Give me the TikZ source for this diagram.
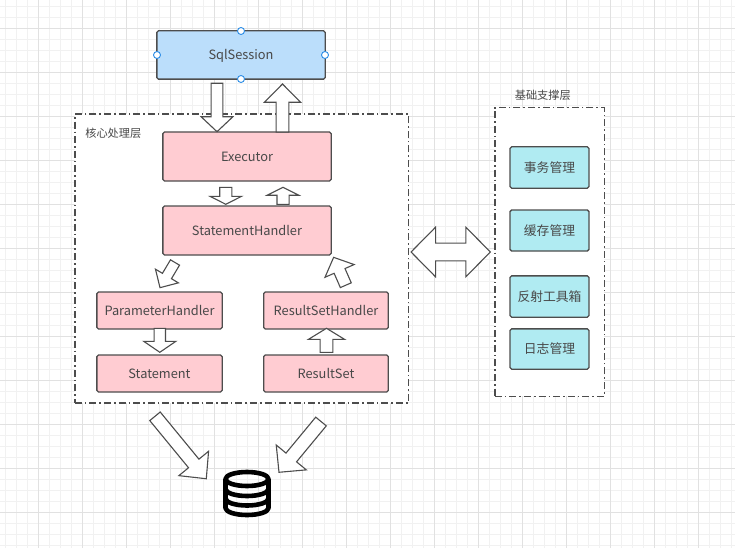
\documentclass[tikz,border=0pt]{standalone}
\usepackage{fontspec}
\setmainfont{Noto Sans CJK SC}
\usetikzlibrary{shapes.arrows}

\definecolor{boxline}{HTML}{4D4D4D}
\definecolor{boxtext}{HTML}{484848}
\definecolor{sessionfill}{HTML}{BBDEFB}
\definecolor{corefill}{HTML}{FFCCD2}
\definecolor{basefill}{HTML}{B0EBF2}
\definecolor{handleblue}{HTML}{2A8CE6}
\definecolor{gridminor}{HTML}{F1F1F1}
\definecolor{gridmajor}{HTML}{E1E1E1}

\tikzset{
	flowbox/.style n args={3}{draw=boxline,line width=1.3pt,rounded corners=1.6pt,fill=#3,text=boxtext,
		minimum width=#1pt,minimum height=#2pt,inner sep=0pt,outer sep=0pt,text height=10.5pt,text depth=1pt,
		font=\fontsize{12.8}{14}\selectfont},
	layerbox/.style n args={2}{draw=boxline,line width=1.5pt,fill=white,dash pattern=on 7pt off 3pt on 1.6pt off 3pt,
		minimum width=#1pt,minimum height=#2pt,inner sep=0pt,outer sep=0pt},
	layertitle/.style={text=boxtext,inner sep=0pt,text height=9.5pt,text depth=1pt,font=\fontsize{11.2}{12}\selectfont},
	blockarrow/.style n args={4}{single arrow,draw=boxline,fill=white,line width=1.1pt,anchor=tail,inner sep=0pt,outer sep=0pt,
		minimum height=#1pt,minimum width=#3pt,inner xsep=0pt,inner ysep={#2/2*1pt},
		single arrow head extend={(#3-#2)/2*1pt},single arrow tip angle={2*atan(#3/2/#4)}},
	handle/.style={circle,draw=handleblue,fill=white,line width=0.9pt,minimum size=7pt,inner sep=0pt},
}

\begin{document}
\begin{tikzpicture}[x=1pt,y=-1pt]
	\useasboundingbox (0,0) rectangle (735,548);
	\fill[white] (0,0) rectangle (735,548);
	% grid
	\foreach \i in {0,...,66} {
		\pgfmathsetmacro{\gx}{5.3+11*\i}
		\draw[gridminor,line width=0.9pt] (\gx,0) -- (\gx,548);
	}
	\foreach \i in {0,...,49} {
		\pgfmathsetmacro{\gy}{6.3+11*\i}
		\draw[gridminor,line width=0.9pt] (0,\gy) -- (735,\gy);
	}
	\foreach \i in {0,...,16} {
		\pgfmathsetmacro{\gx}{38.3+44*\i}
		\draw[gridmajor,line width=0.9pt] (\gx,0) -- (\gx,548);
	}
	\foreach \i in {0,...,11} {
		\pgfmathsetmacro{\gy}{28.3+44*\i}
		\draw[gridmajor,line width=0.9pt] (0,\gy) -- (735,\gy);
	}

	\node[layerbox={333.5}{289}] (core) at (241.5,258.5) {};
	\node[layerbox={109.5}{288.5}] (base) at (549.5,252) {};
	\node[layertitle] (coretitle) at (113.3,133.7) {核心处理层};
	\node[layertitle] (basetitle) at (542.8,95.3) {基础支撑层};

	\node[flowbox={168.3}{48.3}{sessionfill}] (session) at (241,55) {SqlSession};
	\node[flowbox={168.3}{49}{corefill}] (executor) at (247,156.5) {Executor};
	\node[flowbox={168.3}{49}{corefill}] (stmthandler) at (247,230.5) {StatementHandler};
	\node[flowbox={125.3}{37}{corefill}] (paramhandler) at (159.5,310.5) {ParameterHandler};
	\node[flowbox={124.6}{37}{corefill}] (resulthandler) at (326,310.5) {ResultSetHandler};
	\node[flowbox={125.3}{37}{corefill}] (statement) at (159.5,373.5) {Statement};
	\node[flowbox={124.6}{37}{corefill}] (resultset) at (326,373.5) {ResultSet};

	\node[flowbox={79}{41.3}{basefill}] (txn) at (549.5,167.5) {事务管理};
	\node[flowbox={79}{41}{basefill}] (cache) at (549.5,230.5) {缓存管理};
	\node[flowbox={79}{41.3}{basefill}] (reflect) at (549.5,296.5) {反射工具箱};
	\node[flowbox={79}{40.3}{basefill}] (logging) at (549.5,349) {日志管理};

	\node[handle] (hw) at (157,55) {};
	\node[handle] (he) at (325,55) {};
	\node[handle] (hn) at (241,31) {};
	\node[handle] (hs) at (241,79) {};

	\node[blockarrow={48.4}{10.6}{30.6}{14.4},rotate=270] (sessiondown) at (217,83.3) {};
	\node[blockarrow={48}{11.7}{35}{17.7},rotate=90] (sessionup) at (282.5,132) {};
	\node[blockarrow={17}{11}{30}{7.6},rotate=270] (execdown) at (225.8,187.3) {};
	\node[blockarrow={17}{11}{30.6}{7.7},rotate=90] (execup) at (283,204.3) {};
	\node[blockarrow={29.3}{9.4}{25.6}{13},rotate=239.2] (paramin) at (175,262.5) {};
	\node[blockarrow={30.4}{10.8}{30.7}{14.3},rotate=113.6] (resultout) at (345.8,285.2) {};
	\node[blockarrow={24}{10.3}{31}{10.6},rotate=270] (stmtdown) at (159.8,328.3) {};
	\node[blockarrow={24}{11.7}{35}{10.7},rotate=90] (resultup) at (326.5,352.3) {};
	\node[blockarrow={80.8}{12.4}{37.3}{19.2},rotate=-50.6] (dbin) at (155,416.3) {};
	\node[blockarrow={65.9}{12.6}{37.9}{18.7},rotate=230.4] (dbout) at (321,421.5) {};
	\node[double arrow,draw=boxline,fill=white,line width=1.1pt,inner xsep=0pt,inner ysep=8.3pt,outer sep=0pt,
		minimum height=79.3pt,minimum width=48.6pt,double arrow head extend=16pt,
		double arrow tip angle={2*atan(24.3/24)}] (coretobase) at (450.7,252) {};

	% database
	\coordinate (db) at (247,479);
	\draw[black,line width=4.6pt,line cap=round,line join=round]
		(db) ellipse [x radius=21.5,y radius=7]
		(225.5,479) -- (225.5,508) arc [start angle=180,end angle=360,x radius=21.5,y radius=-7] -- (268.5,479)
		(225.5,489) arc [start angle=180,end angle=360,x radius=21.5,y radius=-7]
		(225.5,498.5) arc [start angle=180,end angle=360,x radius=21.5,y radius=-7];
\end{tikzpicture}
\end{document}
